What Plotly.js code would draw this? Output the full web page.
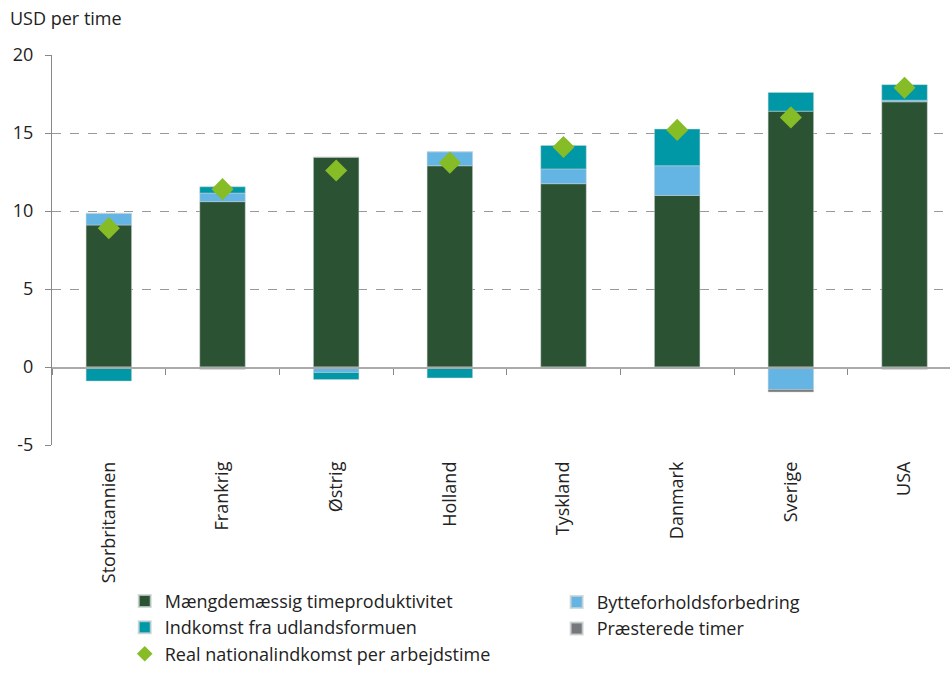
<!DOCTYPE html>
<html>
<head>
<meta charset="utf-8">
<script src="https://cdn.plot.ly/plotly-3.0.1.min.js"></script>
<style>
  body { margin: 0; background: #fff; }
  #chart { width: 950px; height: 673px; }
</style>
</head>
<body>
<div id="chart"></div>
<script>
// lande og komponenter (USD per time)
var countries = ['Storbritannien', 'Frankrig', 'Østrig', 'Holland', 'Tyskland', 'Danmark', 'Sverige', 'USA'];
var productivity = [9.1, 10.6, 13.45, 12.9, 11.75, 11.0, 16.4, 17.0];
var termsOfTrade = [0.75, 0.55, -0.35, 0.9, 0.95, 1.9, -1.45, 0.1];
var foreignIncome = [-0.9, 0.4, -0.45, -0.7, 1.5, 2.35, 1.2, 1.0];
var hoursWorked = [0, -0.15, 0, 0, -0.1, -0.1, -0.15, -0.15];
var realIncome = [8.9, 11.4, 12.6, 13.1, 14.1, 15.2, 16.0, 17.9];
var yTicks = [-5, 0, 5, 10, 15, 20];
var yTickText = ['-5', '0', '5', '10', '15', '20'];

var names = ['Mængdemæssig timeproduktivitet', 'Bytteforholdsforbedring',
             'Indkomst fra udlandsformuen', 'Præsterede timer'];
var colors = ['#2c5234', '#64b5e4', '#0097a7', '#76787b'];
var legends = ['legend', 'legend2', 'legend', 'legend2'];
var series = [productivity, termsOfTrade, foreignIncome, hoursWorked];

function barTrace(i) {
    return {
        x: countries,
        y: series[i],
        name: names[i],
        type: 'bar',
        width: 0.4,
        legend: legends[i],
        legendgroup: 'g' + i,
        marker: {color: colors[i], line: {color: 'rgba(200,210,210,0.8)', width: 0.6}}
    };
}

var data = [0, 1, 2, 3].map(barTrace);
data.push({
    x: countries,
    y: realIncome,
    name: 'Real nationalindkomst per arbejdstime',
    type: 'scatter',
    mode: 'markers',
    xaxis: 'x2',
    legend: 'legend',
    legendgroup: 'g4',
    marker: {symbol: 'diamond', size: 17, color: '#86bc25'}
});

var font = {family: 'Open Sans, sans-serif', size: 18, color: '#222'};

var legendBase = {
    orientation: 'v',
    xanchor: 'left',
    yanchor: 'top',
    traceorder: 'normal',
    tracegroupgap: 6,
    itemsizing: 'constant',
    font: font,
    bgcolor: 'rgba(0,0,0,0)'
};

var layout = {
    width: 950,
    height: 673,
    margin: {l: 52, r: 0, t: 55, b: 228},
    paper_bgcolor: '#fff',
    plot_bgcolor: '#fff',
    font: font,
    barmode: 'relative',
    showlegend: true,
    title: {
        text: 'USD per time',
        font: font,
        x: 10 / 950, xref: 'container', xanchor: 'left',
        y: 1 - 19 / 673, yref: 'container', yanchor: 'middle'
    },
    xaxis: {
        type: 'category',
        categoryarray: countries,
        range: [-0.5, 7.4],
        anchor: 'free',
        position: 0.2,
        showline: true,
        linecolor: '#aaa',
        linewidth: 1.5,
        ticks: 'outside',
        tickson: 'boundaries',
        ticklen: 6,
        tickcolor: '#888',
        showticklabels: false,
        showgrid: false,
        fixedrange: true
    },
    xaxis2: {
        type: 'category',
        categoryarray: countries,
        range: [-0.5, 7.4],
        overlaying: 'x',
        anchor: 'y',
        side: 'bottom',
        showline: false,
        showgrid: false,
        ticks: '',
        tickangle: -90,
        tickfont: font,
        ticklabelstandoff: 12
    },
    yaxis: {
        range: [-5, 20],
        tickvals: yTicks,
        ticktext: yTickText,
        showline: true,
        linecolor: '#888',
        ticks: 'outside',
        ticklen: 6,
        tickcolor: '#888',
        ticklabelstandoff: 8,
        showgrid: true,
        gridcolor: '#999',
        griddash: 'dash',
        gridwidth: 1,
        zeroline: false,
        tickfont: font
    },
    legend: Object.assign({}, legendBase, {x: 0.081, y: -0.584, yanchor: 'bottom'}),
    legend2: Object.assign({}, legendBase, {x: 0.562, y: -0.356, yanchor: 'top'})
};

Plotly.newPlot('chart', data, layout, {staticPlot: true});
</script>
</body>
</html>
